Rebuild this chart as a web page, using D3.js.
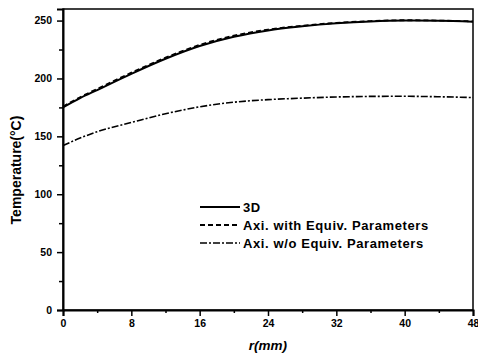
<!DOCTYPE html>
<html>
<head>
<meta charset="utf-8">
<script src="https://cdn.jsdelivr.net/npm/d3@7"></script>
<style>
  body { margin: 0; background: #fff; }
  svg { display: block; font-family: "Liberation Sans", Arial, sans-serif; }
</style>
</head>
<body>
<svg id="chart" width="478" height="358"></svg>
<script>
// radius (mm) and temperature (C)
const radius = [0, 2, 4, 8, 12, 16, 20, 24, 28, 32, 36, 40, 44, 48];
const temp3D = [175, 183, 190, 204, 217, 228, 236, 241.5, 245, 247.6, 249.3, 250, 249.8, 249];
const tempEquiv = [175.8, 183.8, 191, 205, 218, 229, 237, 242.2, 245.6, 248, 249.6, 250.3, 250, 249.3];
const tempNoEquiv = [142, 148.5, 154, 162, 169.5, 175.5, 179.5, 181.7, 183, 184, 184.5, 184.6, 184.2, 183.5];
const xTicks = [0, 8, 16, 24, 32, 40, 48];
const yTicks = [0, 50, 100, 150, 200, 250];
const legendNames = ["3D", "Axi. with Equiv. Parameters", "Axi. w/o Equiv. Parameters"];

const svg = d3.select("#chart");
const margin = {left: 63, right: 5, top: 9, bottom: 48};
const W = 478, H = 358;

const x = d3.scaleLinear().domain([0, 48]).range([margin.left, W - margin.right]);
const y = d3.scaleLinear().domain([0, 260]).range([H - margin.bottom, margin.top]);

// frame (top and right)
svg.append("rect")
    .attr("x", x(0)).attr("y", y(260))
    .attr("width", x(48) - x(0)).attr("height", y(0) - y(260))
    .attr("fill", "none").attr("stroke", "#000").attr("stroke-width", 1.5);

// minor ticks
const xMinor = d3.range(4, 48, 8);
const yMinor = d3.range(25, 260, 50);

const xAxis = svg.append("g")
    .attr("transform", `translate(0,${y(0)})`)
    .call(d3.axisBottom(x).tickValues(xTicks).tickSize(6).tickPadding(4).tickFormat(d3.format("d")));
svg.append("g")
    .attr("transform", `translate(0,${y(0)})`)
    .call(d3.axisBottom(x).tickValues(xMinor).tickSize(3).tickFormat(""))
    .select(".domain").remove();

const yAxis = svg.append("g")
    .attr("transform", `translate(${x(0)},0)`)
    .call(d3.axisLeft(y).tickValues(yTicks).tickSize(6).tickPadding(5).tickFormat(d3.format("d")));
svg.append("g")
    .attr("transform", `translate(${x(0)},0)`)
    .call(d3.axisLeft(y).tickValues(yMinor).tickSize(4).tickFormat(""))
    .select(".domain").remove();

svg.selectAll(".tick line").attr("stroke-width", 1.5);
[xAxis, yAxis].forEach(a => {
    a.select(".domain").attr("stroke-width", 2);
    a.selectAll("text").attr("font-size", 10.5).attr("font-weight", "bold").attr("fill", "#000");
});

// curves
const line = d3.line()
    .x((d, i) => x(radius[i]))
    .y(d => y(d))
    .curve(d3.curveMonotoneX);

const series = [
    {vals: temp3D, dash: null, w: 2},
    {vals: tempEquiv, dash: "5,3", w: 1.8},
    {vals: tempNoEquiv, dash: "7,2,2,2", w: 1.6}
];

svg.append("g").selectAll("path")
    .data(series)
    .join("path")
    .attr("d", d => line(d.vals))
    .attr("fill", "none")
    .attr("stroke", "#000")
    .attr("stroke-width", d => d.w)
    .attr("stroke-dasharray", d => d.dash);

// legend
const legend = svg.append("g").attr("transform", "translate(200,207)");
legendNames.forEach((name, i) => {
    const g = legend.append("g").attr("transform", `translate(0,${i * 18})`);
    g.append("line")
        .attr("x1", 0).attr("x2", 40).attr("y1", 0).attr("y2", 0)
        .attr("stroke", "#000")
        .attr("stroke-width", series[i].w)
        .attr("stroke-dasharray", series[i].dash);
    g.append("text")
        .attr("x", 43).attr("y", 5)
        .attr("font-size", 13).attr("font-weight", "bold")
        .attr("letter-spacing", 0.6)
        .text(name);
});

// axis titles
svg.append("text")
    .attr("transform", "translate(21,170) rotate(-90)")
    .attr("text-anchor", "middle")
    .attr("font-size", 14).attr("font-weight", "bold")
    .text("Temperature(°C)");

svg.append("text")
    .attr("x", 268).attr("y", 350)
    .attr("text-anchor", "middle")
    .attr("font-size", 13.5).attr("font-style", "italic").attr("font-weight", "bold")
    .text("r(mm)");
</script>
</body>
</html>
